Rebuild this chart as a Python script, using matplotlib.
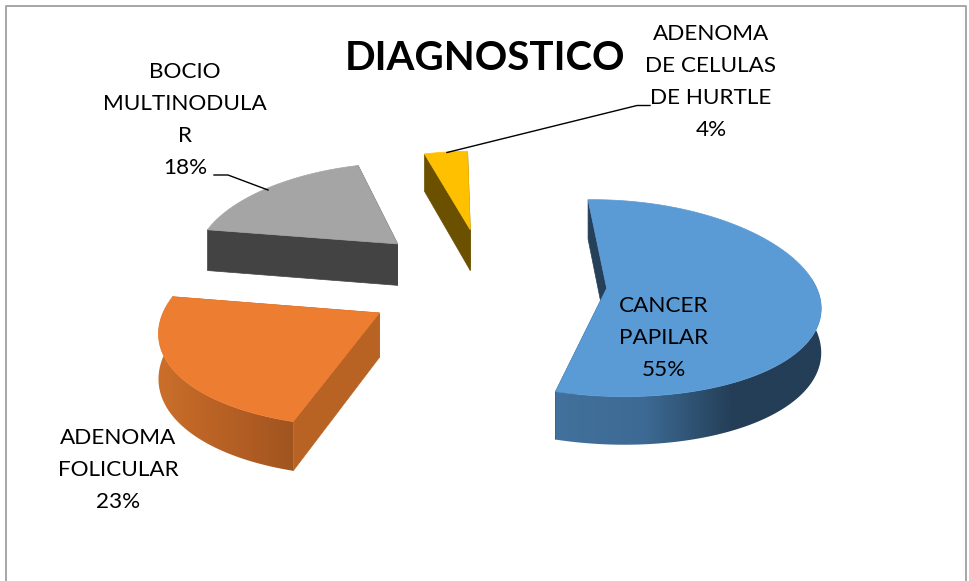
import numpy as np
import matplotlib
matplotlib.use("Agg")
import matplotlib.pyplot as plt
from matplotlib.colors import LinearSegmentedColormap
from matplotlib.patches import Polygon

# Values
labels = ["CANCER\nPAPILAR\n55%", "ADENOMA\nFOLICULAR\n23%",
          "BOCIO\nMULTINODULA\nR\n18%", "ADENOMA\nDE CELULAS\nDE HURTLE\n4%"]
values = [55, 23, 18, 4]
top_colors = ["#5b9bd5", "#ed7d31", "#a5a5a5", "#ffc000"]
cut_colors = ["#264059", "#b86224", "#434343", "#6b5000"]
# rim shading, left to right across each slice
wall_shades = [["#41719c", "#3d6a94", "#243e57", "#243e57"],
               ["#cb6f2b", "#bd6526", "#b05c23", "#a0551f"],
               ["#434343", "#434343"],
               ["#6b5000", "#6b5000"]]
label_xy = [(664, 338), (118, 470), (185, 120), (711, 82)]

# Projection of the exploded pie, in pixels
CX, CY = 487, 283
RX, RY = 208, 96
PERSP_X, PERSP_Y = 0.13, 0.10
DEPTH = 43
EXPLODE = 0.57
START = -1.5
# small shift per slice
NUDGE_X = [1, -3, -5, 0]
NUDGE_Y = [-2, 0, -4, -2]


def project(u, v, z=0.0, i=0):
    return (CX + NUDGE_X[i] + RX * u / (1 + PERSP_X * v),
            CY + NUDGE_Y[i] - RY * v / (1 + PERSP_Y * v) + DEPTH * z / (1 + PERSP_Y * v))


def ground(theta, r, off):
    t = np.radians(theta)
    return off[0] + r * np.sin(t), off[1] + r * np.cos(t)


fig = plt.figure(figsize=(9.69, 5.81), dpi=100)
ax = fig.add_axes([0, 0, 1, 1])
ax.axis("off")

# chart frame, open at the bottom of the crop
ax.plot([6, 6, 966, 966], [581, 5.5, 5.5, 581], color="#a6a6a6", lw=1.4)

# back slices first
fractions = np.array(values) / sum(values)
edges = START + 360 * np.concatenate([[0], np.cumsum(fractions)])

for i in [3, 2, 0, 1]:
    a0, a1 = edges[i], edges[i + 1]
    mid = np.radians((a0 + a1) / 2)
    off = (EXPLODE * np.sin(mid), EXPLODE * np.cos(mid))
    thetas = np.linspace(a0, a1, 160)
    u, v = ground(thetas, 1.0, off)

    # straight cut walls
    for a in (a0, a1):
        ue, ve = ground(a, 1.0, off)
        quad = [project(*off, i=i), project(ue, ve, i=i),
                project(ue, ve, 1, i=i), project(*off, 1, i=i)]
        ax.add_patch(Polygon(quad, fc=cut_colors[i], ec=cut_colors[i], lw=0.5))

    # outer wall, front part only, gradient clipped to its outline
    px, py = project(u, v, i=i)
    qx, qy = project(u, v, 1, i=i)
    front = np.cos(np.radians(thetas)) < 0.1
    if front.any():
        wall = np.column_stack([np.r_[px[front], qx[front][::-1]],
                                np.r_[py[front], qy[front][::-1]]])
        patch = Polygon(wall, fc="none", ec="none", zorder=1)
        ax.add_patch(patch)
        cmap = LinearSegmentedColormap.from_list("wall", wall_shades[i])
        x0, x1 = qx[front].min(), qx[front].max()
        im = ax.imshow(np.linspace(0, 1, 256)[None, :], cmap=cmap, aspect="auto",
                       extent=[x0, x1, qy[front].max() + 2, py[front].min() - 2], zorder=1)
        im.set_clip_path(patch)

    # top face
    ax0, ay0 = project(*off, i=i)
    top = np.column_stack([np.r_[ax0, px], np.r_[ay0, py]])
    ax.add_patch(Polygon(top, fc=top_colors[i], ec=top_colors[i], lw=0.5, zorder=2))

ax.set_xlim(0, 969)
ax.set_ylim(581, 0)

# leader lines
ax.plot([650, 637, 447], [105.5, 105.5, 152.5], color="black", lw=1, zorder=3)
ax.plot([214, 228, 268], [175, 175, 190], color="black", lw=1, zorder=3)

for txt, (x, y) in zip(labels, label_xy):
    ax.text(x, y, txt, ha="center", va="center", fontsize=16.2, family="Lato",
            linespacing=1.77, color="black", zorder=4)

ax.text(485, 58, "DIAGNOSTICO", ha="center", va="center", fontsize=29,
        family="Lato", fontweight="bold", color="black", zorder=4)

fig.savefig("out.png", dpi=100)
